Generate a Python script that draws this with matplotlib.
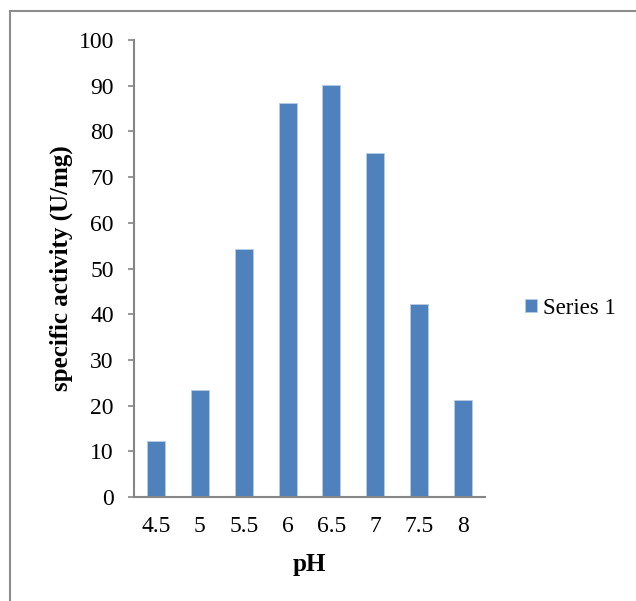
import matplotlib.pyplot as plt
from matplotlib.lines import Line2D

ph = ['4.5', '5', '5.5', '6', '6.5', '7', '7.5', '8']
activity = [12.3, 23.5, 54.3, 86.3, 90.1, 75.3, 42.2, 21.2]

plt.rcParams['font.family'] = ['Liberation Serif', 'DejaVu Serif']

fig = plt.figure(figsize=(6.36, 6.01), dpi=100)
ax = fig.add_axes([0.2107, 0.173, 0.552, 0.7604])

x = range(len(ph))
bars = ax.bar(x, activity, width=0.41, color='#4F81BD', edgecolor='#B9CDE5',
              linewidth=0.6, label='Series 1')

ax.set_xlim(-0.5, len(ph) - 0.5)
ax.set_ylim(0, 100)
ax.set_yticks(range(0, 101, 10))
ax.set_xticks(list(x))
ax.set_xticklabels(ph)
ax.tick_params(axis='y', direction='out', length=4.5, color='#868686', width=1.2,
               labelsize=17, pad=10)
ax.tick_params(axis='x', length=0, labelsize=17, pad=14)

for s in ['top', 'right']:
    ax.spines[s].set_visible(False)
for s in ['left', 'bottom']:
    ax.spines[s].set_color('#868686')
    ax.spines[s].set_linewidth(1.5)

ax.set_xlabel('pH', fontsize=18, fontweight='bold', labelpad=11)
ax.set_ylabel('specific activity (U/mg)', fontsize=18, fontweight='bold', labelpad=4)

ax.legend(handles=[bars], loc='center left', bbox_to_anchor=(0.826, 0.4875),
          bbox_transform=fig.transFigure, frameon=False, fontsize=16.5,
          borderpad=0, borderaxespad=0,
          handlelength=0.5, handleheight=0.5, handletextpad=0.25)

# chart frame (clipped at top/left like the source)
fig.add_artist(Line2D([0.015, 0.015], [0, 0.981], transform=fig.transFigure,
                      color='#8c8c8c', linewidth=1.5))
fig.add_artist(Line2D([0.015, 1.0], [0.981, 0.981], transform=fig.transFigure,
                      color='#8c8c8c', linewidth=1.5))

fig.savefig('out.png', dpi=100)
